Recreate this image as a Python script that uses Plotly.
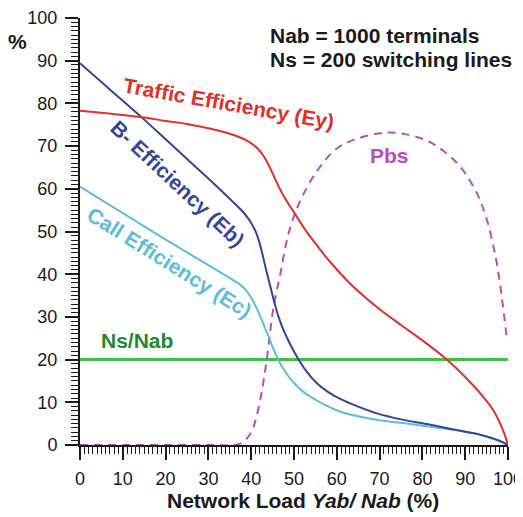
import plotly.graph_objects as go

# ---- data ----
ey_x = [0, 5, 10, 15, 20, 25, 30, 34, 37, 39, 40.5, 42, 43.5, 45, 46.5, 48, 50, 52.5, 55, 57.5, 60, 62.5, 65, 70, 75, 80, 85, 88, 90.5, 93, 95, 96.6, 98, 99.2, 100]
ey_y = [78.3, 77.8, 77.3, 76.7, 75.9, 75.2, 74.2, 73.2, 72.2, 71.3, 70.3, 68.9, 66.7, 63.6, 60.4, 57.6, 54.5, 50.6, 47.2, 44.0, 41.1, 38.4, 36.0, 31.8, 28.1, 24.5, 20.6, 17.9, 15.4, 12.7, 10.3, 8.1, 5.4, 2.5, 0]

eb_x = [0, 5, 10, 15, 20, 25, 30, 34, 36.5, 38.5, 40, 41.2, 42.2, 43.3, 44.5, 45.5, 46.5, 47.5, 48.7, 50, 51.5, 53, 55.4, 58, 60.8, 65, 69.4, 75, 81, 87, 92.8, 96, 98.5, 100]
eb_y = [89.4, 85.0, 80.6, 76.2, 71.6, 67.0, 62.4, 58.6, 56.2, 54.1, 52.0, 49.6, 46.4, 41.8, 37.0, 33.1, 29.7, 27.0, 24.4, 21.9, 19.3, 17.1, 14.4, 12.4, 10.8, 9.0, 7.4, 6.0, 4.9, 3.7, 2.6, 1.7, 0.8, 0]

ec_x = [0, 5, 10, 15, 20, 25, 28, 31, 34, 36, 37.5, 38.8, 40, 41, 42, 43, 44, 45, 46, 47.2, 48.7, 50.5, 52.5, 54.5, 57, 60.8, 65.5, 70, 77.2, 83, 88.9, 93, 96, 98.5, 100]
ec_y = [60.5, 57.4, 54.3, 51.2, 48.1, 45.1, 43.3, 41.5, 39.7, 38.5, 37.5, 36.2, 34.5, 32.6, 30.4, 28.0, 25.5, 23.0, 20.7, 18.3, 16.1, 14.0, 12.2, 10.9, 9.5, 7.8, 6.6, 5.8, 4.9, 4.1, 3.3, 2.5, 1.6, 0.7, 0]

pbs_x = [0, 10, 20, 30, 36, 38, 40, 41.2, 42.5, 43.7, 45.2, 46.8, 48.7, 51.1, 55.4, 60.1, 65, 70, 72.5, 76, 81, 85, 89, 92.8, 95, 96.6, 97.4, 98.5, 99.8]
pbs_y = [0, 0, 0, 0, 0, 0.6, 3.0, 6.5, 12.7, 20.5, 32.2, 40.0, 49.4, 56.4, 64.2, 69.5, 71.8, 73.0, 73.2, 72.8, 71.3, 68.8, 65.0, 58.8, 53.0, 46.5, 42.5, 35.0, 24.4]

ns_x = [0, 100]
ns_y = [20, 20]

x_ticks = [0, 10, 20, 30, 40, 50, 60, 70, 80, 90, 100]
y_ticks = [0, 10, 20, 30, 40, 50, 60, 70, 80, 90, 100]

FONT = "Liberation Sans, Arial, Helvetica, sans-serif"
RED = "#e0302a"
BLUE = "#3443a0"
CYAN = "#5dbbe0"
MAG = "#bb4cbb"
GREEN_L = "#3fc04a"
GREEN_T = "#1e8a2c"

# page body has an 8px margin; compensate so the plot lands where the reference has it
OFFX, OFFY = 8, 7
W, H = 523 - OFFX, 517 - OFFY
ML, MR, MT, MB = 80 - OFFX, 15, 17 - OFFY, 73
PW, PH = W - ML - MR, H - MT - MB


def px_paper(px, py):
    # px, py are screen pixel coordinates in the reference
    return (px - OFFX - ML) / PW, (H - MB - (py - OFFY)) / PH


fig = go.Figure()
fig.add_trace(go.Scatter(x=ns_x, y=ns_y, mode="lines", line=dict(color=GREEN_L, width=3)))
fig.add_trace(go.Scatter(x=pbs_x, y=pbs_y, mode="lines",
                         line=dict(color=MAG, width=2, dash="8px,6px", shape="spline", smoothing=1.0)))
fig.add_trace(go.Scatter(x=ec_x, y=ec_y, mode="lines",
                         line=dict(color=CYAN, width=2, shape="spline", smoothing=1.0)))
fig.add_trace(go.Scatter(x=eb_x, y=eb_y, mode="lines",
                         line=dict(color=BLUE, width=2, shape="spline", smoothing=1.0)))
fig.add_trace(go.Scatter(x=ey_x, y=ey_y, mode="lines",
                         line=dict(color=RED, width=2, shape="spline", smoothing=1.0)))

ann = [
    dict(x=34.9, y=80.0, text="<b>Traffic Efficiency (Ey)</b>", textangle=10, font=dict(color=RED, size=21)),
    dict(x=22.8, y=61.3, text="<b>B- Efficiency (Eb)</b>", textangle=43, font=dict(color=BLUE, size=21)),
    dict(x=20.9, y=42.8, text="<b>Call Efficiency (Ec)</b>", textangle=32, font=dict(color=CYAN, size=21)),
    dict(x=72.2, y=67.8, text="<b>Pbs</b>", font=dict(color=MAG, size=21)),
    dict(x=13.4, y=24.5, text="<b>Ns/Nab</b>", font=dict(color=GREEN_T, size=21)),
    dict(x=44.0, y=96.0, text="<b>Nab = 1000 terminals</b>", xanchor="left", font=dict(color="#1a1a1a", size=21)),
    dict(x=44.0, y=90.3, text="<b>Ns = 200 switching lines</b>", xanchor="left", font=dict(color="#1a1a1a", size=21)),
]
for a in ann:
    a.update(xref="x", yref="y", showarrow=False, font=dict(family=FONT, **a["font"]))
    fig.add_annotation(**a)

px_, py_ = px_paper(17, 41)
fig.add_annotation(x=px_, y=py_, xref="paper", yref="paper", text="<b>%</b>", showarrow=False,
                   xanchor="center", yanchor="middle", font=dict(family=FONT, size=21, color="#1a1a1a"))

tx, ty = px_paper(303, 500)
fig.add_annotation(x=tx, y=ty, xref="paper", yref="paper",
                   text="<b>Network Load <i>Yab/ Nab</i> (%)</b>", showarrow=False,
                   xanchor="center", yanchor="middle", font=dict(family=FONT, size=21, color="#1a1a1a"))

axis_common = dict(
    showgrid=False, zeroline=False, showline=True, linecolor="#1a1a1a", linewidth=2,
    ticks="outside", ticklen=13, tickwidth=1.5, tickcolor="#1a1a1a",
    tickfont=dict(family=FONT, size=18, color="#1a1a1a"),
    minor=dict(ticks="outside", dtick=1, ticklen=7, tickwidth=1, tickcolor="#1a1a1a"),
    automargin=False, ticklabeloverflow="allow",
)
fig.update_xaxes(range=[0, 100], tickvals=x_ticks, ticktext=[str(v) for v in x_ticks],
                 ticklabelstandoff=3, **axis_common)
fig.update_yaxes(range=[0, 100], tickvals=y_ticks, ticktext=[str(v) for v in y_ticks],
                 ticklabelstandoff=4, **axis_common)

fig.update_layout(
    width=W, height=H, showlegend=False,
    margin=dict(l=ML, r=MR, t=MT, b=MB, autoexpand=False),
    paper_bgcolor="white", plot_bgcolor="white",
    font=dict(family=FONT),
)

fig.write_html("out.html")
